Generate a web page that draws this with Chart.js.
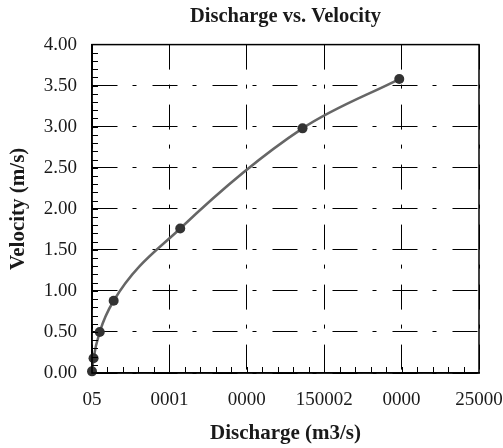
<!DOCTYPE html>
<html>
<head>
<meta charset="utf-8">
<script src="https://cdn.jsdelivr.net/npm/chart.js@4/dist/chart.umd.min.js"></script>
<style>
  html, body { margin: 0; padding: 0; background: #ffffff; }
  #wrap { width: 503px; height: 448px; position: relative; }
</style>
</head>
<body>
<div id="wrap"><canvas id="c" width="503" height="448"></canvas></div>
<script>
// ---- data ----
const discharge = [0, 100, 500, 1400, 5700, 13600, 19850];
const velocity  = [0.02, 0.18, 0.50, 0.88, 1.76, 2.98, 3.58];
const xTickValues = [0, 5000, 10000, 15000, 20000, 25000];
const xTickLabels = ["05", "0001", "0000", "150002", "0000", "25000"];
const yTickValues = [0, 0.5, 1, 1.5, 2, 2.5, 3, 3.5, 4];

const chartTitle = "Discharge vs. Velocity";
const xTitle = "Discharge (m3/s)";
const yTitle = "Velocity (m/s)";

const FONT = "'Liberation Serif', 'Times New Roman', serif";
const DASH = [25, 15, 4, 16];

// minor tick + frame plugin (positions through the scales)
const frameAndMinor = {
  id: 'frameAndMinor',
  afterDatasetsDraw(chart) {
    const {ctx, chartArea: a, scales: {x, y}} = chart;
    ctx.save();
    ctx.strokeStyle = '#000';
    ctx.lineWidth = 1;
    ctx.setLineDash([]);
    ctx.beginPath();
    for (let v = 1000; v < 25000; v += 1000) {
      const px = Math.round(x.getPixelForValue(v)) + 0.5;
      ctx.moveTo(px, a.bottom);
      ctx.lineTo(px, a.bottom - 6);
    }
    for (let i = 1; i < 40; i++) {
      const py = Math.round(y.getPixelForValue(i / 10)) + 0.5;
      ctx.moveTo(a.left, py);
      ctx.lineTo(a.left + 6, py);
    }
    ctx.stroke();
    ctx.lineWidth = 1.5;
    ctx.strokeRect(a.left, a.top, a.right - a.left, a.bottom - a.top);
    ctx.restore();
  }
};

new Chart(document.getElementById('c'), {
  type: 'scatter',
  data: {
    datasets: [{
      data: discharge.map((q, i) => ({x: q, y: velocity[i]})),
      showLine: true,
      borderColor: '#666666',
      borderWidth: 2.5,
      cubicInterpolationMode: 'monotone',
      pointRadius: 5,
      pointBackgroundColor: '#333333',
      pointBorderColor: '#333333',
      pointBorderWidth: 0,
      clip: false
    }]
  },
  options: {
    responsive: false,
    animation: false,
    devicePixelRatio: 1,
    layout: { padding: { left: 0, right: 0, top: 0, bottom: 0 } },
    plugins: {
      legend: { display: false },
      tooltip: { enabled: false },
      title: {
        display: true,
        text: chartTitle,
        fullSize: false,
        color: '#1a1a1a',
        font: { family: FONT, size: 20.5, weight: 'bold', lineHeight: 1.2 },
        padding: { top: 4, bottom: 16 }
      }
    },
    scales: {
      x: {
        type: 'linear',
        min: 0, max: 25000,
        afterBuildTicks(scale) { scale.ticks = xTickValues.map(v => ({value: v})); },
        afterFit(scale) { scale.height = 75; scale.paddingRight = 24; scale.paddingLeft = 0; },
        grid: { color: '#000', lineWidth: 1, drawTicks: false },
        border: { display: true, color: '#000', width: 1.5, dash: DASH },
        ticks: {
          color: '#1a1a1a',
          padding: 16,
          maxRotation: 0,
          autoSkip: false,
          font: { family: FONT, size: 19 },
          callback: (v) => { const i = xTickValues.indexOf(v); return i >= 0 ? xTickLabels[i] : ''; }
        },
        title: {
          display: true,
          text: xTitle,
          color: '#1a1a1a',
          font: { family: FONT, size: 21, weight: 'bold', lineHeight: 1.2 },
          padding: { top: 0, bottom: 2 }
        }
      },
      y: {
        type: 'linear',
        min: 0, max: 4,
        afterBuildTicks(scale) { scale.ticks = yTickValues.map(v => ({value: v})); },
        afterFit(scale) { scale.width = 92; },
        grid: { color: '#000', lineWidth: 1, drawTicks: false },
        border: { display: true, color: '#000', width: 1.5, dash: DASH },
        ticks: {
          color: '#1a1a1a',
          padding: 15,
          font: { family: FONT, size: 19 },
          callback: (v) => Number(v).toFixed(2)
        },
        title: {
          display: true,
          text: yTitle,
          color: '#1a1a1a',
          font: { family: FONT, size: 21, weight: 'bold', lineHeight: 1.2 },
          padding: { top: 6, bottom: 0 }
        }
      }
    }
  },
  plugins: [frameAndMinor]
});
</script>
</body>
</html>
